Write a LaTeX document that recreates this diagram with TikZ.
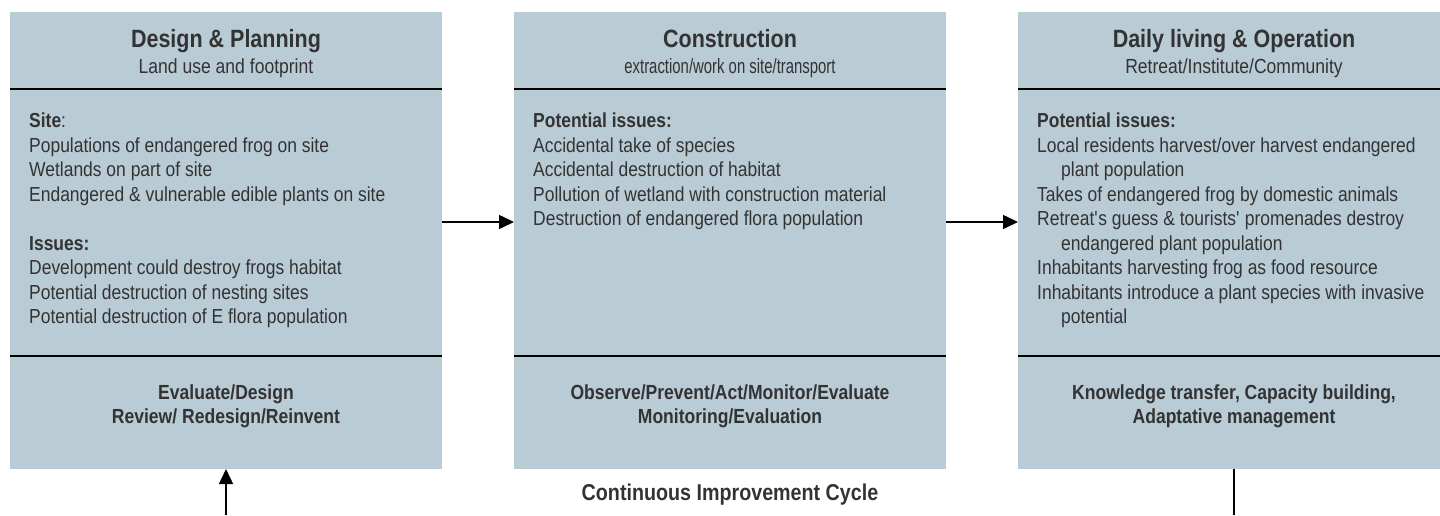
\documentclass[tikz,border=0pt]{standalone}
\usepackage{fontspec}
\setmainfont{Liberation Sans}[FakeStretch=0.86]
\newfontfamily\tightfont{Liberation Sans}[FakeStretch=0.72]
\usetikzlibrary{arrows.meta,positioning}

\definecolor{panel}{HTML}{B9CBD5}
\definecolor{ink}{HTML}{333333}

\begin{document}
\begin{tikzpicture}[
  x=1pt, y=1pt,
  node distance=72pt,
  stage/.style={fill=panel, minimum width=432pt, minimum height=457pt,
    inner sep=0pt, outer sep=0pt},
  head/.style={font=\fontsize{25}{29}\selectfont\bfseries, text=ink,
    anchor=base, inner sep=0pt},
  sub/.style={font=\fontsize{20.4}{24}\selectfont, text=ink, anchor=base,
    inner sep=0pt},
  body/.style={font=\fontsize{20.3}{24.5}\selectfont, text=ink, align=left,
    anchor=north west, inner sep=0pt},
  act/.style={font=\fontsize{20.4}{24}\selectfont\bfseries, text=ink,
    align=center, anchor=north, inner sep=0pt},
  rule/.style={line width=1.4pt},
  flow/.style={line width=1.5pt, -{Triangle[length=15pt,width=14pt]}}
]
\useasboundingbox (0,0) rectangle (1440,-515);

% the three stages
\node[stage] (plan) at (226,-240.5) {};
\node[stage, right=of plan] (build) {};
\node[stage, right=of build] (live) {};

% header and split lines
\foreach \s in {plan,build,live} {
  \draw[rule] ([yshift=-77pt]\s.north west) -- ([yshift=-77pt]\s.north east);
  \draw[rule] ([yshift=113pt]\s.south west) -- ([yshift=113pt]\s.south east);
}

% Design & Planning
\node[head] (planT) at ([yshift=-35pt]plan.north) {Design \& Planning};
\node[sub] (planS) at ([yshift=-61pt]plan.north) {Land use and footprint};
\node[body] (planB) at ([xshift=19pt, yshift=-101pt]plan.north west)
  {\textbf{Site}:\\
   Populations of endangered frog on site\\
   Wetlands on part of site\\
   Endangered \& vulnerable edible plants on site\\[24.5pt]
   \textbf{Issues:}\\
   Development could destroy frogs habitat\\
   Potential destruction of nesting sites\\
   Potential destruction of E flora population};
\node[act] (planA) at ([yshift=84pt]plan.south)
  {Evaluate/Design\\Review/ Redesign/Reinvent};

% Construction
\node[head] (buildT) at ([yshift=-35pt]build.north) {Construction};
\node[sub, font=\fontsize{20.7}{24}\selectfont\tightfont] (buildS)
  at ([yshift=-61pt]build.north) {extraction/work on site/transport};
\node[body] (buildB) at ([xshift=19pt, yshift=-101pt]build.north west)
  {\textbf{Potential issues:}\\
   Accidental take of species\\
   Accidental destruction of habitat\\
   Pollution of wetland with construction material\\
   Destruction of endangered flora population};
\node[act] (buildA) at ([yshift=84pt]build.south)
  {Observe/Prevent/Act/Monitor/Evaluate\\Monitoring/Evaluation};

% Daily living & Operation
\node[head] (liveT) at ([yshift=-35pt]live.north) {Daily living \& Operation};
\node[sub] (liveS) at ([yshift=-61pt]live.north) {Retreat/Institute/Community};
\node[body] (liveB) at ([xshift=19pt, yshift=-101pt]live.north west)
  {\textbf{Potential issues:}\\
   Local residents harvest/over harvest endangered\\
   \hspace*{24pt}plant population\\
   Takes of endangered frog by domestic animals\\
   Retreat\textquotesingle s guess \& tourists\textquotesingle\ promenades destroy\\
   \hspace*{24pt}endangered plant population\\
   Inhabitants harvesting frog as food resource\\
   Inhabitants introduce a plant species with invasive\\
   \hspace*{24pt}potential};
\node[act] (liveA) at ([yshift=84pt]live.south)
  {Knowledge transfer, Capacity building,\\Adaptative management};

\node[font=\fontsize{22.9}{27}\selectfont\bfseries, text=ink, anchor=base,
  inner sep=0pt] (cycle) at ([yshift=-31pt]build.south)
  {Continuous Improvement Cycle};

% flow between stages and the loop back
\draw[flow] ([yshift=18.5pt]plan.east) -- ([yshift=18.5pt]build.west);
\draw[flow] ([yshift=18.5pt]build.east) -- ([yshift=18.5pt]live.west);
\coordinate (backIn) at ([yshift=-46pt]plan.south);
\coordinate (backOut) at ([yshift=-46pt]live.south);
\draw[flow] (backIn) -- (plan.south);
\draw[line width=1.5pt] (live.south) -- (backOut);
\end{tikzpicture}
\end{document}
